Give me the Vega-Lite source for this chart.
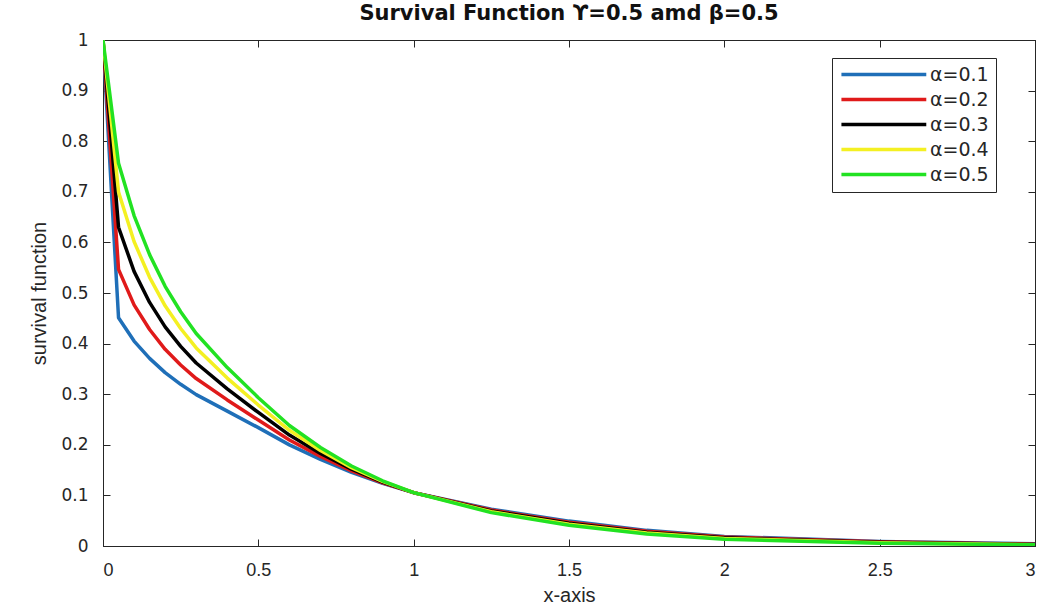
{
  "$schema": "https://vega.github.io/schema/vega-lite/v6.json",
  "autosize": {"type": "none"},
  "padding": {"left": 103, "top": 40, "right": 8, "bottom": 66},
  "width": 932,
  "height": 506,
  "background": "white",
  "title": {
    "text": "Survival Function ϒ=0.5 amd β=0.5",
    "font": "DejaVu Sans",
    "fontSize": 21,
    "fontWeight": "bold",
    "color": "#111111",
    "anchor": "middle",
    "offset": 7
  },
  "config": {
    "view": {"stroke": "#262626", "strokeWidth": 1},
    "axis": {
      "labelFont": "DejaVu Sans",
      "labelFontSize": 17,
      "labelColor": "#262626",
      "titleFont": "Liberation Sans",
      "titleFontSize": 20,
      "titleFontWeight": "normal",
      "titleColor": "#262626",
      "domainColor": "#262626",
      "tickColor": "#262626",
      "grid": false
    }
  },
  "data": {
    "values": [
      {"x": 0, "S": 1, "alpha": "α=0.1"},
      {"x": 0.05, "S": 0.4511, "alpha": "α=0.1"},
      {"x": 0.1, "S": 0.405, "alpha": "α=0.1"},
      {"x": 0.15, "S": 0.3708, "alpha": "α=0.1"},
      {"x": 0.2, "S": 0.3426, "alpha": "α=0.1"},
      {"x": 0.25, "S": 0.3196, "alpha": "α=0.1"},
      {"x": 0.3, "S": 0.2992, "alpha": "α=0.1"},
      {"x": 0.4, "S": 0.2665, "alpha": "α=0.1"},
      {"x": 0.5, "S": 0.2339, "alpha": "α=0.1"},
      {"x": 0.6, "S": 0.1999, "alpha": "α=0.1"},
      {"x": 0.7, "S": 0.1712, "alpha": "α=0.1"},
      {"x": 0.8, "S": 0.1455, "alpha": "α=0.1"},
      {"x": 0.9, "S": 0.1237, "alpha": "α=0.1"},
      {"x": 1.0, "S": 0.1054, "alpha": "α=0.1"},
      {"x": 1.25, "S": 0.0726, "alpha": "α=0.1"},
      {"x": 1.5, "S": 0.0492, "alpha": "α=0.1"},
      {"x": 1.75, "S": 0.0309, "alpha": "α=0.1"},
      {"x": 2.0, "S": 0.019, "alpha": "α=0.1"},
      {"x": 2.5, "S": 0.0091, "alpha": "α=0.1"},
      {"x": 3.0, "S": 0.0042, "alpha": "α=0.1"},

      {"x": 0, "S": 1, "alpha": "α=0.2"},
      {"x": 0.05, "S": 0.5466, "alpha": "α=0.2"},
      {"x": 0.1, "S": 0.4766, "alpha": "α=0.2"},
      {"x": 0.15, "S": 0.4278, "alpha": "α=0.2"},
      {"x": 0.2, "S": 0.3887, "alpha": "α=0.2"},
      {"x": 0.25, "S": 0.3578, "alpha": "α=0.2"},
      {"x": 0.3, "S": 0.3309, "alpha": "α=0.2"},
      {"x": 0.4, "S": 0.2887, "alpha": "α=0.2"},
      {"x": 0.5, "S": 0.2489, "alpha": "α=0.2"},
      {"x": 0.6, "S": 0.2095, "alpha": "α=0.2"},
      {"x": 0.7, "S": 0.1771, "alpha": "α=0.2"},
      {"x": 0.8, "S": 0.1486, "alpha": "α=0.2"},
      {"x": 0.9, "S": 0.125, "alpha": "α=0.2"},
      {"x": 1.0, "S": 0.1054, "alpha": "α=0.2"},
      {"x": 1.25, "S": 0.071, "alpha": "α=0.2"},
      {"x": 1.5, "S": 0.0471, "alpha": "α=0.2"},
      {"x": 1.75, "S": 0.0291, "alpha": "α=0.2"},
      {"x": 2.0, "S": 0.0176, "alpha": "α=0.2"},
      {"x": 2.5, "S": 0.0082, "alpha": "α=0.2"},
      {"x": 3.0, "S": 0.0037, "alpha": "α=0.2"},

      {"x": 0, "S": 1, "alpha": "α=0.3"},
      {"x": 0.05, "S": 0.63, "alpha": "α=0.3"},
      {"x": 0.1, "S": 0.5428, "alpha": "α=0.3"},
      {"x": 0.15, "S": 0.4814, "alpha": "α=0.3"},
      {"x": 0.2, "S": 0.433, "alpha": "α=0.3"},
      {"x": 0.25, "S": 0.3946, "alpha": "α=0.3"},
      {"x": 0.3, "S": 0.3617, "alpha": "α=0.3"},
      {"x": 0.4, "S": 0.3105, "alpha": "α=0.3"},
      {"x": 0.5, "S": 0.2639, "alpha": "α=0.3"},
      {"x": 0.6, "S": 0.2192, "alpha": "α=0.3"},
      {"x": 0.7, "S": 0.183, "alpha": "α=0.3"},
      {"x": 0.8, "S": 0.1518, "alpha": "α=0.3"},
      {"x": 0.9, "S": 0.1263, "alpha": "α=0.3"},
      {"x": 1.0, "S": 0.1054, "alpha": "α=0.3"},
      {"x": 1.25, "S": 0.0693, "alpha": "α=0.3"},
      {"x": 1.5, "S": 0.0451, "alpha": "α=0.3"},
      {"x": 1.75, "S": 0.0272, "alpha": "α=0.3"},
      {"x": 2.0, "S": 0.0162, "alpha": "α=0.3"},
      {"x": 2.5, "S": 0.0073, "alpha": "α=0.3"},
      {"x": 3.0, "S": 0.0032, "alpha": "α=0.3"},

      {"x": 0, "S": 1, "alpha": "α=0.4"},
      {"x": 0.05, "S": 0.6998, "alpha": "α=0.4"},
      {"x": 0.1, "S": 0.6017, "alpha": "α=0.4"},
      {"x": 0.15, "S": 0.531, "alpha": "α=0.4"},
      {"x": 0.2, "S": 0.4747, "alpha": "α=0.4"},
      {"x": 0.25, "S": 0.4298, "alpha": "α=0.4"},
      {"x": 0.3, "S": 0.3915, "alpha": "α=0.4"},
      {"x": 0.4, "S": 0.3318, "alpha": "α=0.4"},
      {"x": 0.5, "S": 0.2786, "alpha": "α=0.4"},
      {"x": 0.6, "S": 0.2287, "alpha": "α=0.4"},
      {"x": 0.7, "S": 0.1888, "alpha": "α=0.4"},
      {"x": 0.8, "S": 0.1549, "alpha": "α=0.4"},
      {"x": 0.9, "S": 0.1276, "alpha": "α=0.4"},
      {"x": 1.0, "S": 0.1054, "alpha": "α=0.4"},
      {"x": 1.25, "S": 0.0677, "alpha": "α=0.4"},
      {"x": 1.5, "S": 0.043, "alpha": "α=0.4"},
      {"x": 1.75, "S": 0.0255, "alpha": "α=0.4"},
      {"x": 2.0, "S": 0.0149, "alpha": "α=0.4"},
      {"x": 2.5, "S": 0.0065, "alpha": "α=0.4"},
      {"x": 3.0, "S": 0.0027, "alpha": "α=0.4"},

      {"x": 0, "S": 1, "alpha": "α=0.5"},
      {"x": 0.05, "S": 0.7566, "alpha": "α=0.5"},
      {"x": 0.1, "S": 0.6531, "alpha": "α=0.5"},
      {"x": 0.15, "S": 0.5758, "alpha": "α=0.5"},
      {"x": 0.2, "S": 0.5132, "alpha": "α=0.5"},
      {"x": 0.25, "S": 0.463, "alpha": "α=0.5"},
      {"x": 0.3, "S": 0.4199, "alpha": "α=0.5"},
      {"x": 0.4, "S": 0.3526, "alpha": "α=0.5"},
      {"x": 0.5, "S": 0.2931, "alpha": "α=0.5"},
      {"x": 0.6, "S": 0.2382, "alpha": "α=0.5"},
      {"x": 0.7, "S": 0.1946, "alpha": "α=0.5"},
      {"x": 0.8, "S": 0.1581, "alpha": "α=0.5"},
      {"x": 0.9, "S": 0.1289, "alpha": "α=0.5"},
      {"x": 1.0, "S": 0.1054, "alpha": "α=0.5"},
      {"x": 1.25, "S": 0.066, "alpha": "α=0.5"},
      {"x": 1.5, "S": 0.041, "alpha": "α=0.5"},
      {"x": 1.75, "S": 0.0237, "alpha": "α=0.5"},
      {"x": 2.0, "S": 0.0135, "alpha": "α=0.5"},
      {"x": 2.5, "S": 0.0056, "alpha": "α=0.5"},
      {"x": 3.0, "S": 0.0023, "alpha": "α=0.5"}
    ]
  },
  "layer": [
    {
      "mark": {"type": "line", "strokeWidth": 3.5, "strokeJoin": "round", "clip": true},
      "encoding": {
        "x": {
          "field": "x",
          "type": "quantitative",
          "scale": {"domain": [0, 3], "nice": false, "zero": false},
          "axis": {
            "values": [0, 0.5, 1, 1.5, 2, 2.5, 3],
            "format": "~g",
            "tickSize": -7,
            "labelFont": "Liberation Sans",
            "labelFontSize": 18,
            "labelPadding": 22,
            "title": "x-axis",
            "titlePadding": 6
          }
        },
        "y": {
          "field": "S",
          "type": "quantitative",
          "scale": {"domain": [0, 1], "nice": false},
          "axis": {
            "values": [0, 0.1, 0.2, 0.3, 0.4, 0.5, 0.6, 0.7, 0.8, 0.9, 1],
            "format": "~g",
            "tickSize": -7,
            "labelPadding": 22,
            "title": "survival function",
            "titlePadding": 11
          }
        },
        "color": {
          "field": "alpha",
          "type": "nominal",
          "scale": {
            "domain": ["α=0.1", "α=0.2", "α=0.3", "α=0.4", "α=0.5"],
            "range": ["#1F6FB8", "#E01A1A", "#000000", "#F4F022", "#22E222"]
          },
          "legend": {
            "title": null,
            "orient": "none",
            "legendX": 729,
            "legendY": 18,
            "symbolType": "M-1,0H11",
            "symbolSize": 200,
            "symbolStrokeWidth": 3.5,
            "labelFont": "DejaVu Sans",
            "labelFontSize": 19,
            "labelColor": "#262626",
            "labelOffset": 72,
            "rowPadding": 5,
            "padding": 7,
            "strokeColor": "#262626",
            "fillColor": "white"
          }
        }
      }
    },
    {
      "mark": {"type": "line", "opacity": 0},
      "encoding": {
        "x": {
          "field": "x",
          "type": "quantitative",
          "scale": {"domain": [0, 3], "nice": false, "zero": false},
          "axis": {
            "orient": "top",
            "values": [0, 0.5, 1, 1.5, 2, 2.5, 3],
            "labels": false,
            "tickSize": -7,
            "title": null
          }
        },
        "y": {
          "field": "S",
          "type": "quantitative",
          "scale": {"domain": [0, 1], "nice": false},
          "axis": {
            "orient": "right",
            "values": [0, 0.1, 0.2, 0.3, 0.4, 0.5, 0.6, 0.7, 0.8, 0.9, 1],
            "labels": false,
            "tickSize": -7,
            "title": null
          }
        },
        "detail": {"field": "alpha", "type": "nominal"}
      }
    }
  ],
  "resolve": {"axis": {"x": "independent", "y": "independent"}}
}
